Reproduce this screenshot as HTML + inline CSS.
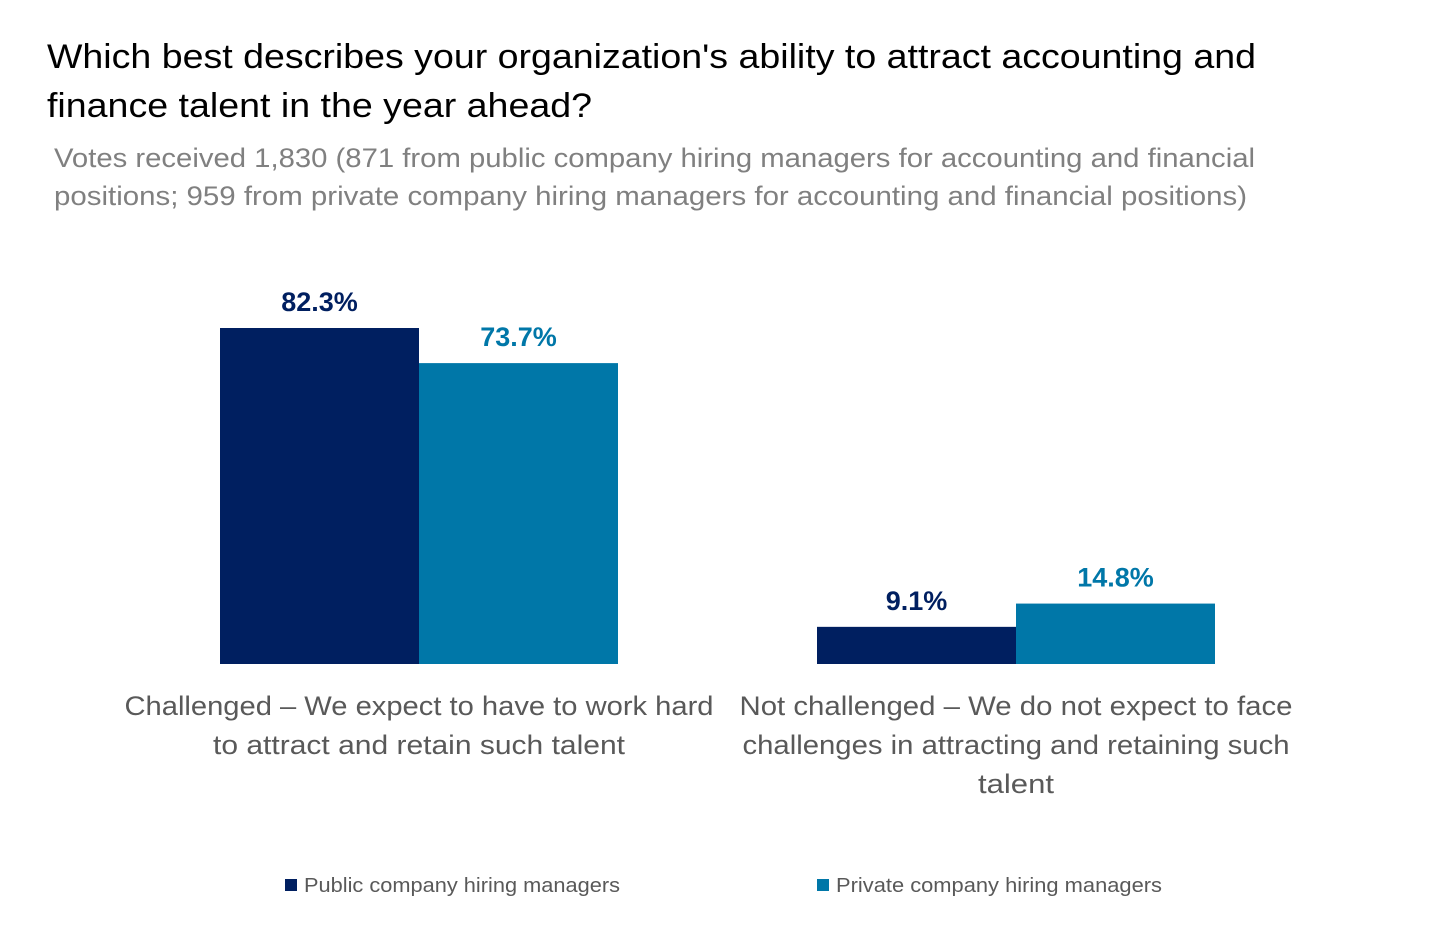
<!DOCTYPE html>
<html><head><meta charset="utf-8"><style>
html,body{margin:0;padding:0;background:#fff;}
svg{display:block;font-family:"Liberation Sans",sans-serif;}
</style></head><body>
<svg width="1439" height="935" viewBox="0 0 1439 935">
<g fill="#000" font-size="34">
<text x="47" y="68" textLength="1209" lengthAdjust="spacingAndGlyphs">Which best describes your organization's ability to attract accounting and</text>
<text x="47" y="117" textLength="545" lengthAdjust="spacingAndGlyphs">finance talent in the year ahead?</text>
</g>
<g fill="#808080" font-size="27">
<text x="54" y="167" textLength="1201" lengthAdjust="spacingAndGlyphs">Votes received 1,830 (871 from public company hiring managers for accounting and financial</text>
<text x="54" y="205" textLength="1193" lengthAdjust="spacingAndGlyphs">positions; 959 from private company hiring managers for accounting and financial positions)</text>
</g>
<g id="bars"></g>
<g font-size="20" fill="#595959">
<g>
<rect x="285" y="879" width="12" height="12" fill="#001f60"/>
<text x="304" y="892" textLength="316" lengthAdjust="spacingAndGlyphs">Public company hiring managers</text></g>
<g>
<rect x="817" y="879" width="12" height="12" fill="#0077a8"/>
<text x="836" y="892" textLength="326" lengthAdjust="spacingAndGlyphs">Private company hiring managers</text></g>
</g>
</svg>
<script>
const categories=[["Challenged – We expect to have to work hard","to attract and retain such talent"],["Not challenged – We do not expect to face","challenges in attracting and retaining such","talent"]];
const publicValues=[82.3,9.1];
const privateValues=[73.7,14.8];
const labelWidths=[[589,412],[553,547,76]];
const NS="http://www.w3.org/2000/svg";
const g=document.getElementById('bars');
const baseY=664, pxPer=336/82.3, barW=199;
const centers=[419,1016];
function y(v){return baseY-v*pxPer;}
function mk(tag,attrs){const e=document.createElementNS(NS,tag);for(const k in attrs)e.setAttribute(k,attrs[k]);g.appendChild(e);return e;}
const series=[{vals:publicValues,color:"#001f60",off:-barW,name:"public"},{vals:privateValues,color:"#0077a8",off:0,name:"private"}];
categories.forEach((cat,i)=>{
 series.forEach(s=>{
  const v=s.vals[i];
  const r=mk('rect',{x:centers[i]+s.off,y:y(v),width:barW,height:baseY-y(v),fill:s.color});
  
  
  const t=mk('text',{x:centers[i]+s.off+barW/2,y:y(v)-17,'text-anchor':'middle','font-size':'27','font-weight':'bold',fill:s.color});
  t.textContent=v.toFixed(1)+'%';
  
  
 });
 cat.forEach((line,j)=>{
  const t=mk('text',{x:centers[i],y:715+j*39,'text-anchor':'middle','font-size':'27',fill:'#595959',textLength:labelWidths[i][j],lengthAdjust:'spacingAndGlyphs'});
  t.textContent=line;
  
  
 });
});
</script>
</body></html>
